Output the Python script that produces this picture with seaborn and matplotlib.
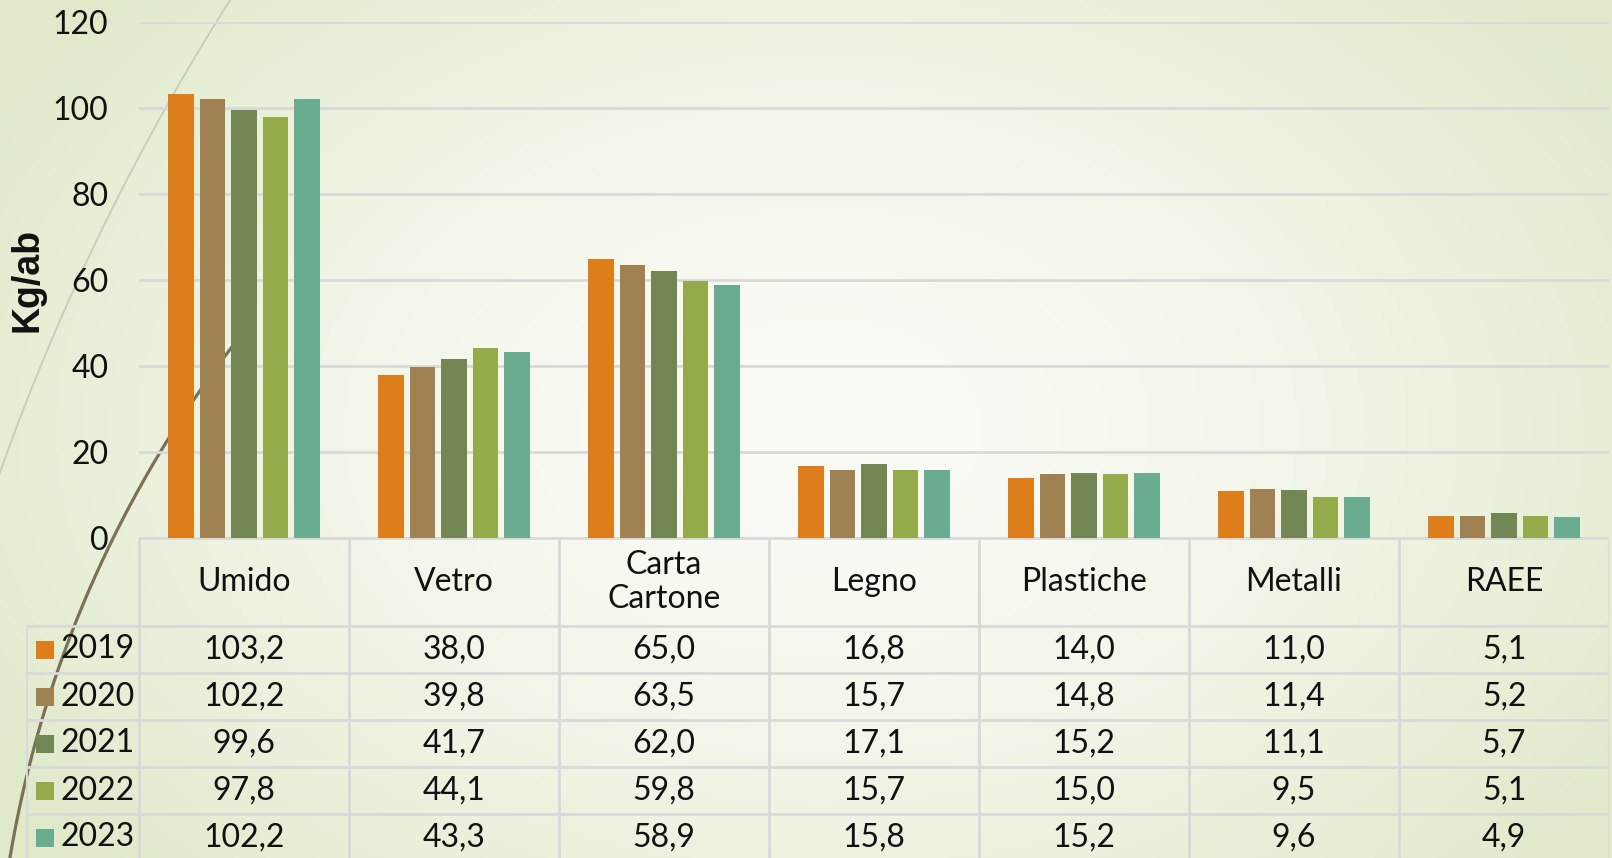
import numpy as np
import pandas as pd
import seaborn as sns
import matplotlib.pyplot as plt
from matplotlib.patches import Rectangle

# dati (Kg per abitante)
categorie = ['Umido', 'Vetro', 'Carta\nCartone', 'Legno', 'Plastiche', 'Metalli', 'RAEE']
anni = ['2019', '2020', '2021', '2022', '2023']
v2019 = [103.2, 38.0, 65.0, 16.8, 14.0, 11.0, 5.1]
v2020 = [102.2, 39.8, 63.5, 15.7, 14.8, 11.4, 5.2]
v2021 = [99.6, 41.7, 62.0, 17.1, 15.2, 11.1, 5.7]
v2022 = [97.8, 44.1, 59.8, 15.7, 15.0, 9.5, 5.1]
v2023 = [102.2, 43.3, 58.9, 15.8, 15.2, 9.6, 4.9]
colori = ['#DE7E1A', '#A08252', '#718652', '#94AB4C', '#6AAC90']

valori = [v2019, v2020, v2021, v2022, v2023]
df = pd.DataFrame([
    {'cat': c, 'anno': a, 'kg': v}
    for a, serie in zip(anni, valori)
    for c, v in zip(categorie, serie)
])

sns.set_style('white')
plt.rcParams['font.family'] = ['Lato', 'DejaVu Sans']

W, H = 1612, 858
fig = plt.figure(figsize=(W / 100, H / 100), dpi=100)

# sfondo sfumato + curve decorative
bg = fig.add_axes([0, 0, 1, 1], zorder=-10)
xx, yy = np.meshgrid(np.linspace(0, W, 400), np.linspace(0, H, 220))
d = np.sqrt(((xx - 820) / 950) ** 2 + ((yy - 430) / 650) ** 2)
w = np.clip(d, 0, 1) ** 1.6
c0 = np.array([251, 251, 246]) / 255
c1 = np.array([224, 234, 203]) / 255
img = c0 * (1 - w[..., None]) + c1 * w[..., None]
bg.imshow(img, extent=[0, W, 0, H], origin='upper', aspect='auto')
t = np.radians(np.linspace(141, 172, 200))
bg.plot(1149 + 1155 * np.cos(t), -191 + 1155 * np.sin(t), color='#7A7157', lw=2.3)
t = np.radians(np.linspace(147, 161, 200))
bg.plot(2219 + 2355 * np.cos(t), -403 + 2355 * np.sin(t), color='#C9CCB8', lw=1.3)
bg.set_xlim(0, W)
bg.set_ylim(0, H)
bg.axis('off')

# grafico a barre
ax = fig.add_axes([139 / W, (H - 538) / H, 1470 / W, 516 / H])
ax.patch.set_alpha(0)
sns.barplot(data=df, x='cat', y='kg', hue='anno', palette=colori, width=0.75,
            gap=0.2, saturation=1, legend=False, ax=ax, zorder=3, linewidth=0)
ax.set_ylim(0, 120)
ax.set_xlim(-0.5, 6.5)
ax.set_yticks(range(0, 121, 20))
ax.tick_params(axis='y', labelsize=23, length=0, pad=22, labelcolor='#111111')
ax.set_xticks([])
ax.set_xlabel('')
ax.set_ylabel('')
ax.grid(axis='y', color='#D9D9D9', lw=2)
ax.set_axisbelow(True)
sns.despine(ax=ax, left=True, bottom=True)

fig.text(28 / W, 1 - 280 / H, 'Kg/ab', rotation=90, ha='center', va='center',
         fontsize=27, fontweight='bold', family='Liberation Sans', color='#111111')

# tabella dati sotto il grafico
leg_w = 113 / 210
hdr = 88 / 47
tab_h = H - 538
tab = fig.add_axes([26 / W, 0, 1583 / W, tab_h / H])
tab.patch.set_alpha(0)
tab.set_xlim(-0.5 - leg_w, 6.5)
tab.set_ylim(tab_h / 47, 0)
tab.axis('off')
lc = '#D9D9D9'
n = len(categorie)
xl = -0.5 - leg_w
bottom = hdr + len(anni)
for k in range(n + 1):
    tab.plot([k - 0.5, k - 0.5], [0, bottom + 1], color=lc, lw=2)
tab.plot([xl, xl], [hdr, bottom + 1], color=lc, lw=2)
tab.plot([-0.5, n - 0.5], [0, 0], color=lc, lw=2)
for r in range(len(anni)):
    tab.plot([xl, n - 0.5], [hdr + r, hdr + r], color=lc, lw=2)

for i, c in enumerate(categorie):
    tab.text(i, hdr / 2, c, ha='center', va='center', fontsize=23,
             color='#111111', linespacing=1.2)

for r, (a, serie, col) in enumerate(zip(anni, valori, colori)):
    yc = hdr + r + 0.5
    tab.add_patch(Rectangle((xl + 10 / 210, yc - 9 / 47), 18 / 210, 18 / 47,
                            facecolor=col, edgecolor='none'))
    tab.text(xl + 34 / 210, yc, a, ha='left', va='center', fontsize=23, color='#111111')
    for i, v in enumerate(serie):
        tab.text(i, yc, f'{v:.1f}'.replace('.', ','), ha='center', va='center',
                 fontsize=23, color='#111111')

fig.savefig('out.png', dpi=100)
